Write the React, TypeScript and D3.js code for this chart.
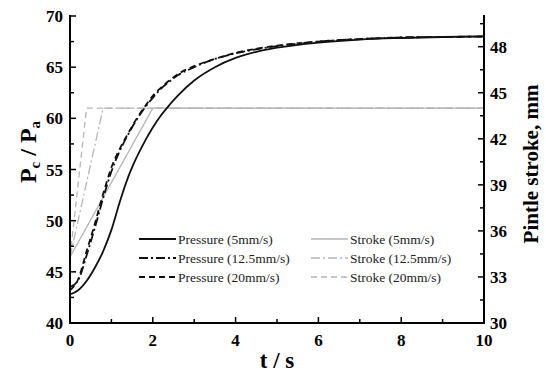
import React from "react";
import * as d3 from "d3";

const timeS = [0, 0.2, 0.4, 0.6, 0.8, 1.0, 1.2, 1.4, 1.6, 1.8, 2.0, 2.2, 2.4, 2.6, 3.0, 3.5, 4.0, 4.5, 5, 6, 7, 8, 9, 10];
const pressure5 = [42.8, 43.2, 44.1, 45.4, 47.0, 49.1, 51.8, 54.2, 56.1, 57.7, 59.1, 60.3, 61.3, 62.2, 63.7, 65.0, 65.9, 66.5, 66.9, 67.4, 67.7, 67.85, 67.95, 68.0];
const pressure125 = [43.5, 44.2, 46.6, 49.3, 52.2, 54.8, 56.8, 58.4, 59.8, 61.0, 62.0, 62.9, 63.6, 64.2, 65.0, 65.8, 66.35, 66.75, 67.05, 67.5, 67.75, 67.9, 67.95, 68.0];
const pressure20 = [43.2, 44.3, 47.0, 49.7, 52.6, 55.2, 57.0, 58.5, 59.9, 61.1, 62.2, 63.0, 63.7, 64.3, 65.1, 65.8, 66.4, 66.8, 67.1, 67.5, 67.75, 67.9, 67.95, 68.0];

const strokeTime5 = [0, 2.0, 10];
const strokeTime125 = [0, 0.8, 10];
const strokeTime20 = [0, 0.4, 10];
const strokeValues = [34.3, 44, 44];

const leftTicks = [40, 45, 50, 55, 60, 65, 70];
const rightTicks = [30, 33, 36, 39, 42, 45, 48];
const xTicks = [0, 2, 4, 6, 8, 10];

const legendLabels = [
  "Pressure (5mm/s)", "Pressure (12.5mm/s)", "Pressure (20mm/s)",
  "Stroke (5mm/s)", "Stroke (12.5mm/s)", "Stroke (20mm/s)",
];

const FONT = "'Liberation Serif', 'Times New Roman', serif";

export default function App() {
  const L = 70, R = 484, T = 16, B = 323;
  const x = d3.scaleLinear().domain([0, 10]).range([L, R]);
  const yL = d3.scaleLinear().domain([40, 70]).range([B, T]);
  const yR = d3.scaleLinear().domain([30, 50]).range([B, T]);

  const pLine = (vals: number[]) =>
    d3.line<number>().x((_, i) => x(timeS[i])).y((v) => yL(v)).curve(d3.curveMonotoneX)(vals) || "";
  const sLine = (ts: number[]) =>
    d3.line<number>().x((_, i) => x(ts[i])).y((v) => yR(v))(strokeValues) || "";

  const pressureSeries = [
    { vals: pressure5, dash: "none" },
    { vals: pressure125, dash: "9,3,2,3" },
    { vals: pressure20, dash: "6,4" },
  ];
  const strokeSeries = [
    { ts: strokeTime5, dash: "none" },
    { ts: strokeTime125, dash: "9,3,2,3" },
    { ts: strokeTime20, dash: "6,4" },
  ];

  const xMinor = d3.range(0, 10.01, 1);
  const yLMinor = d3.range(40, 70.01, 2.5);
  const yRMinor = d3.range(30, 50.01, 1.5);

  const legendRows = [239, 258, 277];
  const pressColor = "#111";
  const strokeColor = "#b5b5b5";

  return (
    <svg width={546} height={373} style={{ position: "absolute", left: 0, top: 0, background: "#fff" }} fontFamily={FONT}>
      {strokeSeries.map((s, i) => (
        <path key={"s" + i} d={sLine(s.ts)} fill="none" stroke={strokeColor} strokeWidth={1.3} strokeDasharray={s.dash} />
      ))}
      {pressureSeries.map((s, i) => (
        <path key={"p" + i} d={pLine(s.vals)} fill="none" stroke={pressColor} strokeWidth={1.8} strokeDasharray={s.dash} />
      ))}

      <line x1={L} y1={T - 1} x2={L} y2={B + 1} stroke="#000" strokeWidth={2} />
      <line x1={R} y1={T - 1} x2={R} y2={B + 1} stroke="#000" strokeWidth={2} />
      <line x1={L - 1} y1={B} x2={R + 1} y2={B} stroke="#000" strokeWidth={2} />

      {xMinor.map((t) => (
        <line key={"xm" + t} x1={x(t)} x2={x(t)} y1={B} y2={B - (t % 2 === 0 ? 6 : 4)} stroke="#000" strokeWidth={1.5} />
      ))}
      {yLMinor.map((v) => (
        <line key={"ylm" + v} x1={L} x2={L + (v % 5 === 0 ? 6 : 4)} y1={yL(v)} y2={yL(v)} stroke="#000" strokeWidth={1.5} />
      ))}
      {yRMinor.map((v) => (
        <line key={"yrm" + v} x1={R} x2={R - (Math.abs(v % 3) < 0.01 ? 6 : 4)} y1={yR(v)} y2={yR(v)} stroke="#000" strokeWidth={1.5} />
      ))}

      {xTicks.map((t) => (
        <text key={"xt" + t} x={x(t)} y={346} textAnchor="middle" fontSize={17} fontWeight="bold">{t}</text>
      ))}
      {leftTicks.map((v) => (
        <text key={"lt" + v} x={63} y={yL(v) + 6} textAnchor="end" fontSize={17} fontWeight="bold">{v}</text>
      ))}
      {rightTicks.map((v) => (
        <text key={"rt" + v} x={490} y={yR(v) + 6} textAnchor="start" fontSize={17} fontWeight="bold">{v}</text>
      ))}

      <text x={277} y={368} textAnchor="middle" fontSize={23} fontWeight="bold">t / s</text>
      <text transform="translate(36,152) rotate(-90)" textAnchor="middle" fontSize={24} fontWeight="bold">
        P<tspan fontSize={15} dy={4}>c</tspan><tspan dy={-4}> / P</tspan><tspan fontSize={15} dy={4}>a</tspan>
      </text>
      <text transform="translate(538,164) rotate(-90)" textAnchor="middle" fontSize={21} fontWeight="bold">Pintle stroke, mm</text>

      {pressureSeries.map((s, i) => (
        <g key={"lp" + i}>
          <line x1={139} x2={176} y1={legendRows[i]} y2={legendRows[i]} stroke={pressColor} strokeWidth={1.8} strokeDasharray={s.dash} />
          <text x={178} y={legendRows[i] + 4.5} fontSize={13.5} fill="#222">{legendLabels[i]}</text>
        </g>
      ))}
      {strokeSeries.map((s, i) => (
        <g key={"ls" + i}>
          <line x1={311} x2={348} y1={legendRows[i]} y2={legendRows[i]} stroke={strokeColor} strokeWidth={1.3} strokeDasharray={s.dash} />
          <text x={350} y={legendRows[i] + 4.5} fontSize={13.5} fill="#222">{legendLabels[i + 3]}</text>
        </g>
      ))}
    </svg>
  );
}
